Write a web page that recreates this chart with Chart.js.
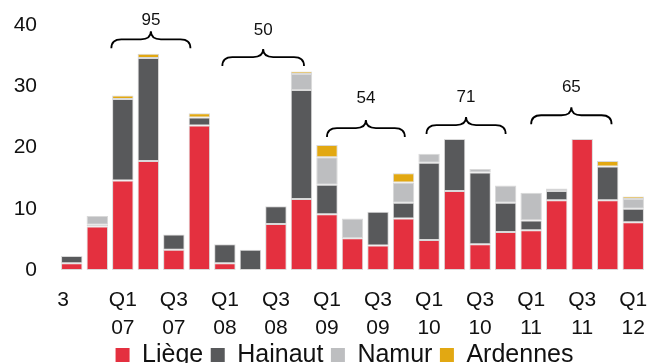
<!DOCTYPE html>
<html>
<head>
<meta charset="utf-8">
<script src="https://cdn.jsdelivr.net/npm/chart.js@4/dist/chart.umd.min.js"></script>
<style>
  body { margin: 0; background: #fff; }
</style>
</head>
<body>
<canvas id="myChart" width="649" height="363"></canvas>
<script>
// quarters Q3 2006 .. Q1 2012, only every second one gets a label
let quarters = [
    ['3   ', ''], ['', ''],
    ['Q1', '07'], ['', ''], ['Q3', '07'], ['', ''],
    ['Q1', '08'], ['', ''], ['Q3', '08'], ['', ''],
    ['Q1', '09'], ['', ''], ['Q3', '09'], ['', ''],
    ['Q1', '10'], ['', ''], ['Q3', '10'], ['', ''],
    ['Q1', '11'], ['', ''], ['Q3', '11'], ['', ''],
    ['Q1', '12']
];

let liege    = [1.1, 7.1, 14.6, 17.8, 3.3, 23.6, 1.1, null, 7.5, 11.6, 9.1, 5.2, 4.0, 8.4, 4.9, 12.9, 4.2, 6.2, 6.5, 11.4, 21.4, 11.4, 7.8];
let hainaut  = [1.2, 0.3, 13.3, 16.8, 2.5, 1.3, 3.1, 3.3, 2.9, 17.8, 4.8, null, 5.5, 2.6, 12.6, 8.5, 11.7, 4.8, 1.6, 1.5, null, 5.5, 2.2];
let namur    = [null, 1.4, null, null, null, null, null, null, null, 2.6, 4.5, 3.2, null, 3.3, 1.5, null, 0.6, 2.8, 4.5, 0.4, null, null, 1.6];
let ardennes = [null, null, 0.6, 0.7, null, 0.7, null, null, null, 0.4, 2.0, null, null, 1.5, null, null, null, null, null, null, null, 0.9, 0.4];

let yTicks = [0, 10, 20, 30, 40];

// yearly totals bracketed above the bars (first quarter index of each year)
let yearStart = [2, 6, 10, 14, 18];

// where each brace sits: x span in category units, bottom and label height in axis units
let braces = [
    {from: 1.55, to: 4.65,  level: 36.2, text: 40.8},
    {from: 5.9,  to: 9.1,   level: 33.3, text: 39.2},
    {from: 10.0, to: 13.05, level: 21.7, text: 28.1},
    {from: 13.9, to: 17.0,  level: 22.2, text: 28.2},
    {from: 18.0, to: 21.15, level: 23.8, text: 29.9}
];

const FONT = '"Liberation Sans", Arial, sans-serif';

function yearTotal(start) {
    let sum = 0;
    for (let i = start; i < start + 4; i++) {
        [liege, hainaut, namur, ardennes].forEach(s => { sum += s[i] || 0; });
    }
    return Math.round(sum);
}

const bracePlugin = {
    id: 'braces',
    afterLayout(chart) {
        // nudge the legend row a little to the left
        chart.legend.left -= 8;
        chart.legend.right -= 8;
    },
    afterDatasetsDraw(chart) {
        let ctx = chart.ctx;
        let xs = chart.scales.x, ys = chart.scales.y;
        ctx.save();
        ctx.strokeStyle = '#000';
        ctx.lineWidth = 1.8;
        ctx.fillStyle = '#111';
        ctx.font = '17px ' + FONT;
        ctx.textAlign = 'center';
        ctx.textBaseline = 'middle';
        braces.forEach((b, i) => {
            let x0 = xs.getPixelForValue(b.from);
            let x1 = xs.getPixelForValue(b.to);
            let yb = ys.getPixelForValue(b.level);
            let xm = (x0 + x1) / 2;
            let ym = yb - 9, tip = yb - 17, r = 10;
            ctx.beginPath();
            ctx.moveTo(x0, yb);
            ctx.quadraticCurveTo(x0, ym, x0 + r, ym);
            ctx.lineTo(xm - r, ym);
            ctx.quadraticCurveTo(xm, ym, xm, tip);
            ctx.quadraticCurveTo(xm, ym, xm + r, ym);
            ctx.lineTo(x1 - r, ym);
            ctx.quadraticCurveTo(x1, ym, x1, yb);
            ctx.stroke();
            ctx.fillText(String(yearTotal(yearStart[i])), xm, ys.getPixelForValue(b.text));
        });
        ctx.restore();
    }
};

function series(label, data, color) {
    return {
        label: label,
        data: data,
        backgroundColor: color,
        borderColor: '#d9d9d9',
        borderWidth: 1,
        borderSkipped: false,
        barPercentage: 0.84,
        categoryPercentage: 1
    };
}

var ctx = document.getElementById('myChart').getContext('2d');
var myChart = new Chart(ctx, {
    type: 'bar',
    data: {
        labels: quarters,
        datasets: [
            series('Liège', liege, '#e4303f'),
            series('Hainaut', hainaut, '#58595b'),
            series('Namur', namur, '#bdbec0'),
            series('Ardennes', ardennes, '#e2a812')
        ]
    },
    options: {
        responsive: false,
        animation: false,
        layout: { padding: { top: 25, right: 3, left: 0, bottom: -14.5 } },
        plugins: {
            tooltip: { enabled: false },
            legend: {
                position: 'bottom',
                fullSize: false,
                labels: {
                    boxWidth: 14,
                    boxHeight: 14,
                    padding: 7.5,
                    color: '#111',
                    font: { family: FONT, size: 25 },
                    generateLabels: chart => Chart.defaults.plugins.legend.labels.generateLabels(chart).map(l => {
                        l.lineWidth = 0;
                        l.strokeStyle = 'rgba(0,0,0,0)';
                        return l;
                    })
                }
            }
        },
        scales: {
            x: {
                stacked: true,
                grid: { display: false, drawTicks: false },
                border: { display: false },
                ticks: {
                    autoSkip: false,
                    maxRotation: 0,
                    // mirrored labels are not clipped to the axis box, so the
                    // second line can run down next to the legend; the negative
                    // padding puts them back under the bars
                    mirror: true,
                    padding: -44,
                    color: '#111',
                    font: { family: FONT, size: 21, lineHeight: 28 / 21 },
                    callback: function(value) { return quarters[value]; }
                },
                afterFit: s => {
                    s.height = 65;
                    s.paddingLeft = 0;
                    s.paddingRight = 0;
                }
            },
            y: {
                stacked: true,
                min: 0,
                max: 40,
                grid: { display: false, drawTicks: false },
                border: { display: false },
                afterBuildTicks: s => { s.ticks = yTicks.map(v => ({ value: v })); },
                ticks: {
                    padding: 22,
                    color: '#111',
                    font: { family: FONT, size: 21 }
                },
                afterFit: s => {
                    s.width = 59;
                    s.paddingTop = 0;
                    s.paddingBottom = 0;
                }
            }
        }
    },
    plugins: [bracePlugin]
});
</script>
</body>
</html>
